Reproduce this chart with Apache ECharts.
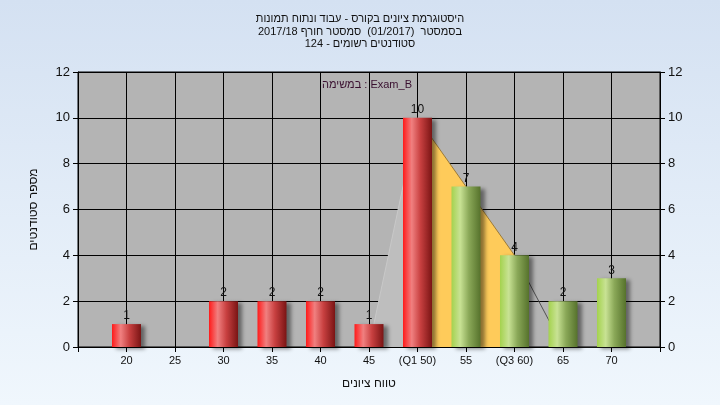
<!DOCTYPE html>
<html><head><meta charset="utf-8">
<script src="https://cdn.jsdelivr.net/npm/echarts@6/dist/echarts.min.js"></script>
<style>html,body{margin:0;padding:0;}#c{width:720px;height:405px;}</style>
</head><body><div id="c"></div>
<script>
const titleLines = ['היסטוגרמת ציונים בקורס - עבוד ונתוח תמונות', 'בסמסטר  (01/2017)  סמסטר חורף 2017/18', 'סטודנטים רשומים - 124'];
const examLabel = 'במשימה : Exam_B';
const xName = 'טווח ציונים';
const yName = 'מספר סטודנטים';
const categories = ['20','25','30','35','40','45','(Q1 50)','55','(Q3 60)','65','70'];
const counts = [1,0,2,2,2,1,10,7,4,2,3];
const curve = [null,null,null,null,null,0,10,7,4,0,0];
const yTicks = [0,2,4,6,8,10,12];

const RLE='\u202B', PDF='\u202C';
const axisCats = [''].concat(categories, ['']);
const q1Index = 6, q3Index = 8;

function grad(c0,c1,c2,c3){
  return new echarts.graphic.LinearGradient(0,0,1,0,[
    {offset:0,color:c0},{offset:0.3,color:c1},{offset:0.6,color:c2},{offset:1,color:c3}]);
}
const red = grad('#ff1a1a','#f08080','#c84040','#7a1414');
const green = grad('#a4d24e','#c8e294','#8aa858','#56722c');

const barData = [null].concat(counts.map((v,i)=>({value:v,itemStyle:{color: i<=q1Index?red:green}})), [null]);
function seg(a,b){ return [null].concat(curve.map((v,i)=> (i>=a && i<=b)?v:null), [null]); }

const chart = echarts.init(document.getElementById('c'));
chart.setOption({
  backgroundColor: new echarts.graphic.LinearGradient(0,0,0,1,[{offset:0,color:'#d4e1f2'},{offset:1,color:'#f0f7fd'}]),
  animation:false,
  title:{text: titleLines.map(s=>RLE+s+PDF).join('\n'), left:'center', top:8,
    textStyle:{fontFamily:'Liberation Sans, Arial', fontSize:11, fontWeight:'normal', color:'#111', lineHeight:12.5}},
  graphic:[{type:'text', left:322, top:79, style:{text:examLabel, font:'11px Liberation Sans, Arial', fill:'#3a1030'}}],
  grid:{left:78,right:60,top:72,bottom:58,show:true,backgroundColor:'#b4b4b4',borderColor:'#000',borderWidth:1},
  xAxis:{type:'category',data:axisCats,boundaryGap:false,
    name:xName,nameLocation:'middle',nameGap:31,nameTextStyle:{fontFamily:'Liberation Sans, Arial',fontSize:12,color:'#111'},
    axisLine:{lineStyle:{color:'#000'}},axisTick:{interval:0,length:5,lineStyle:{color:'#000'}},
    axisLabel:{interval:0,fontFamily:'Liberation Sans, Arial',fontSize:11,color:'#111',margin:8},
    splitLine:{show:true,interval:0,lineStyle:{color:'#000',width:1}}},
  yAxis:[
    {type:'value',min:0,max:12,interval:2,position:'left',
      name:yName,nameLocation:'middle',nameGap:38,nameTextStyle:{fontFamily:'Liberation Sans, Arial',fontSize:12,color:'#111'},
      axisLine:{show:true,lineStyle:{color:'#000'}},axisTick:{show:true,length:5,lineStyle:{color:'#000'}},
      axisLabel:{fontFamily:'Liberation Sans, Arial',fontSize:13,color:'#111',margin:8,formatter:v=>yTicks.includes(v)?String(v):''},
      splitLine:{show:true,lineStyle:{color:'#000',width:1}}},
    {type:'value',min:0,max:12,interval:2,position:'right',
      axisLine:{show:true,lineStyle:{color:'#000'}},axisTick:{show:true,length:5,lineStyle:{color:'#000'}},
      axisLabel:{fontFamily:'Liberation Sans, Arial',fontSize:13,color:'#111',margin:8},
      splitLine:{show:false}}
  ],
  series:[
    {type:'line',data:seg(5,6),symbol:'none',z:2,lineStyle:{color:'#c8c8c8',width:1},areaStyle:{color:'#bebebe',opacity:1}},
    {type:'line',data:seg(q1Index,q3Index),symbol:'none',z:2,lineStyle:{color:'#9a7a3a',width:1},areaStyle:{color:'#fecb5a',opacity:1}},
    {type:'line',data:seg(q3Index,10),symbol:'none',z:2,lineStyle:{color:'#505050',width:1}},
    {type:'bar',data:barData,barWidth:29,z:3,
      itemStyle:{shadowBlur:4,shadowOffsetX:4,shadowOffsetY:2,shadowColor:'rgba(0,0,0,0.45)'},
      label:{show:true,position:'top',distance:2,fontFamily:'Liberation Sans, Arial',fontSize:12,color:'#111',
        formatter:p=>p.value?String(p.value):''}}
  ]
});
</script></body></html>
